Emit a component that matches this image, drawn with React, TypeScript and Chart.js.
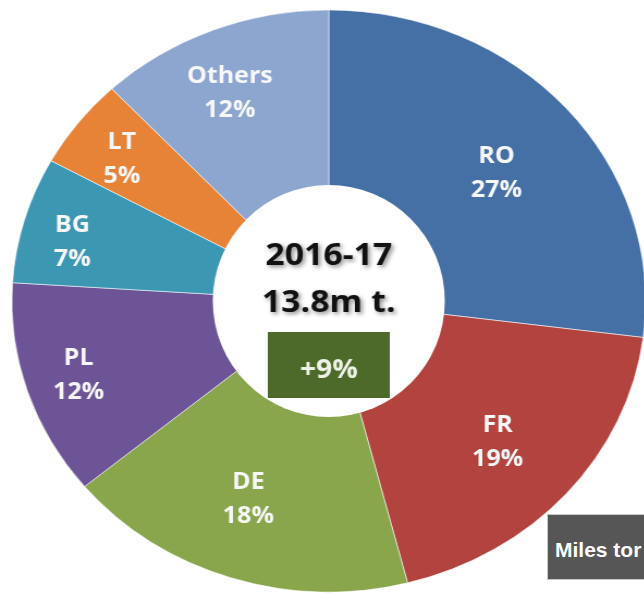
import React, { useEffect, useRef } from "react";
import { Chart, registerables } from "chart.js";

Chart.register(...registerables);

const categories = ["RO", "FR", "DE", "PL", "BG", "LT", "Others"];
const shares = [27, 19, 18, 12, 7, 5, 12];
const sliceColors = ["#4570A6", "#B2433E", "#89A64C", "#6C5496", "#3C97B2", "#E68337", "#8CA6D0"];
const centerTitle = "2016-17";
const centerTotal = "13.8m t.";
const centerChange = "+9%";
const boxText = "Miles tor";

const STRETCH = 1.089;
const CAP = 0.714; // Open Sans cap-height ratio

const labelPlugin = {
  id: "sliceLabels",
  afterDatasetsDraw(chart: any, _args: any, opts: any) {
    const ctx = chart.ctx;
    const meta = chart.getDatasetMeta(0);
    const radii: number[] = opts.radii || [];
    const nudges: number[] = opts.angleNudges || [];
    ctx.save();
    const first = meta.data[0];
    const cx = first.x;
    const cy = first.y;
    // white centre hole (appears circular after horizontal stretch)
    ctx.fillStyle = "#ffffff";
    ctx.beginPath();
    ctx.ellipse(cx, cy, opts.holeR / STRETCH, opts.holeR, 0, 0, Math.PI * 2);
    ctx.fill();

    // slice labels
    ctx.textAlign = "center";
    ctx.textBaseline = "alphabetic";
    ctx.fillStyle = "#F7F7F7";
    const lf = 23;
    ctx.font = `bold ${lf}px 'Open Sans'`;
    const half = (lf * CAP) / 2;
    meta.data.forEach((arc: any, i: number) => {
      const p = arc.getProps(["startAngle", "endAngle", "x", "y"], true);
      const mid = (p.startAngle + p.endAngle) / 2 + ((nudges[i] || 0) * Math.PI) / 180;
      const r = radii[i] ?? 210;
      const x = p.x + Math.cos(mid) * r;
      const y = p.y + Math.sin(mid) * r;
      ctx.fillText(chart.data.labels[i], x, y - 17 + half);
      ctx.fillText(chart.data.datasets[0].data[i] + "%", x, y + 17 + half);
    });

    // centre texts
    ctx.shadowColor = "rgba(0,0,0,0.45)";
    ctx.shadowBlur = 4;
    ctx.shadowOffsetX = 2;
    ctx.shadowOffsetY = 2;
    ctx.fillStyle = "#111111";
    const cf = 31;
    ctx.font = `bold ${cf}px 'Open Sans'`;
    ctx.fillText(centerTitle, cx, cy - 47 + (cf * CAP) / 2);
    ctx.fillText(centerTotal, cx, cy + (cf * CAP) / 2);
    ctx.shadowColor = "transparent";
    ctx.shadowBlur = 0;
    ctx.shadowOffsetX = 0;
    ctx.shadowOffsetY = 0;
    const bw = 112;
    const bh = 66;
    ctx.fillStyle = "#4E6A2B";
    ctx.fillRect(cx - bw / 2, cy + 31, bw, bh);
    ctx.fillStyle = "#EEF2E6";
    const gf = 26;
    ctx.font = `bold ${gf}px 'Open Sans'`;
    ctx.fillText(centerChange, cx, cy + 67.5 + (gf * CAP) / 2);
    ctx.restore();
  },
};

export default function App() {
  const ref = useRef<HTMLCanvasElement | null>(null);
  useEffect(() => {
    document.body.style.margin = "0";
    if (!ref.current) return;
    const chart = new Chart(ref.current, {
      type: "doughnut",
      data: {
        labels: categories,
        datasets: [
          {
            data: shares,
            backgroundColor: sliceColors,
            borderColor: "rgba(255,255,255,0.55)",
            borderWidth: 1,
          },
        ],
      },
      options: {
        responsive: false,
        animation: false,
        events: [],
        radius: 291,
        cutout: 100,
        layout: { padding: 0 },
        plugins: {
          legend: { display: false },
          tooltip: { enabled: false },
          sliceLabels: {
            radii: [201, 209, 210, 241, 243, 238, 228],
            angleNudges: [1.4, 0.7, 2.6, 0.4, -1.9, -0.8, -1.9],
            holeR: 116,
          },
        } as any,
      },
      plugins: [labelPlugin],
    });
    return () => chart.destroy();
  }, []);

  return (
    <div
      style={{
        position: "fixed",
        left: 0,
        top: 0,
        width: 644,
        height: 595,
        overflow: "hidden",
        background: "#ffffff",
      }}
    >
      <canvas
        ref={ref}
        width={602}
        height={602}
        style={{
          position: "absolute",
          left: 1,
          top: 0,
          width: 602,
          height: 602,
          transform: `scaleX(${STRETCH})`,
          transformOrigin: "0 0",
        }}
      />
      <div
        style={{
          position: "absolute",
          left: 547,
          top: 514,
          width: 120,
          height: 66,
          background: "#565656",
          border: "1px solid #c8c8c8",
          boxSizing: "border-box",
          color: "#ffffff",
          fontFamily: "'Liberation Sans', Arial, sans-serif",
          fontWeight: "bold",
          fontSize: 21,
          lineHeight: "21px",
          paddingLeft: 7,
          paddingTop: 24,
          whiteSpace: "nowrap",
        }}
      >
        {boxText}
      </div>
    </div>
  );
}
